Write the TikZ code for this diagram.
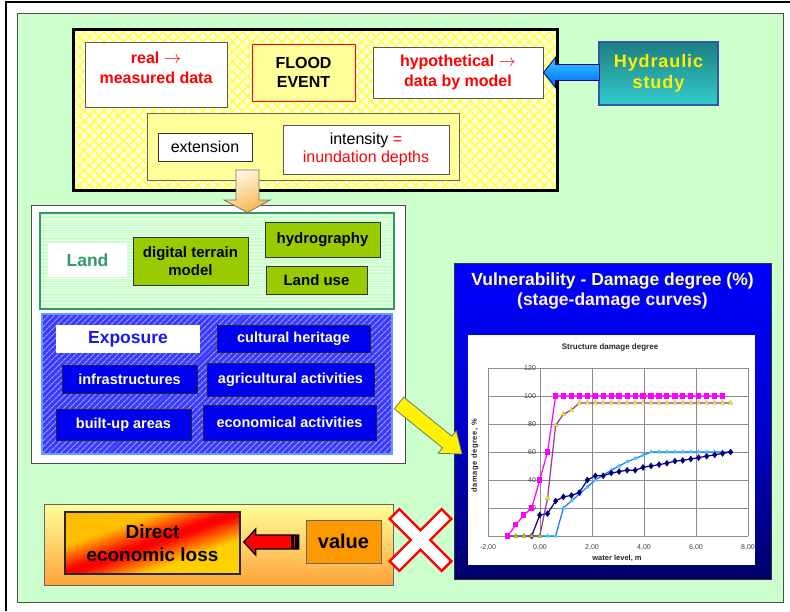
\documentclass[tikz,border=0pt]{standalone}
\usepackage{fontspec}
\setmainfont{Liberation Sans}
\newfontfamily\hydfont[LetterSpace=5]{Liberation Sans}
\newfontfamily\spcfont[LetterSpace=8]{Liberation Sans}
\usetikzlibrary{patterns.meta,calc,plotmarks}
\definecolor{cgreen}{HTML}{CCFFCC}
\definecolor{cpaleyel}{HTML}{FFFFE0}
\definecolor{chatch}{HTML}{FFFF5A}
\definecolor{cyel}{HTML}{FFFF99}
\definecolor{cteal1}{HTML}{1E7F80}
\definecolor{cteal2}{HTML}{33CCCC}
\definecolor{cnavyb}{HTML}{3355AA}
\definecolor{cblue1}{HTML}{33CCFF}
\definecolor{cblue2}{HTML}{0066FF}
\definecolor{cor1}{HTML}{FFF8E8}
\definecolor{cor2}{HTML}{F8B548}
\definecolor{cland}{HTML}{339966}
\definecolor{colive}{HTML}{99CC00}
\definecolor{cexpo}{HTML}{3B3BFF}
\definecolor{cexpol}{HTML}{A0A0FF}
\definecolor{clblue}{HTML}{6699FF}
\definecolor{cboxblue}{HTML}{0000F0}
\definecolor{cpaley}{HTML}{FFFFCC}
\definecolor{cexptext}{HTML}{1A1AE6}
\definecolor{cb1}{HTML}{0000FF}
\definecolor{cb2}{HTML}{0000D0}
\definecolor{cb3}{HTML}{00006A}
\definecolor{ctitlea}{HTML}{FFFF99}
\definecolor{ctitleb}{HTML}{FFF0E8}
\definecolor{cbya}{HTML}{FFFF99}
\definecolor{cbyb}{HTML}{FFA33A}
\definecolor{cgold}{HTML}{FFB800}
\definecolor{cgoldb}{HTML}{FFD400}
\definecolor{corange}{HTML}{FF9900}
\definecolor{cmag}{HTML}{FF00FF}
\definecolor{cpurp}{HTML}{993399}
\definecolor{cnavy}{HTML}{000080}
\definecolor{cbl}{HTML}{3366FF}
\definecolor{ccy}{HTML}{33CCFF}
\definecolor{cyg}{HTML}{A8D000}
\newcommand{\rarr}{\ensuremath{\rightarrow}}
\begin{document}
\begin{tikzpicture}[x=1pt,y=-1pt,
  bx/.style={rectangle, inner sep=0pt, align=center, line width=1pt},
  whitebox/.style={bx, draw=black!65, fill=white},
  redtxt/.style={align=center, text=red, font=\fontsize{16}{20}\selectfont\bfseries},
  olivebox/.style={bx, draw=black!80, fill=colive, font=\fontsize{15}{18}\selectfont\bfseries},
  bluebox/.style={bx, draw=black!85, fill=cboxblue, text=cpaley, font=\fontsize{14.5}{17}\selectfont\bfseries},
  gridln/.style={draw=black!45, line width=0.9pt},
  ticklab/.style={inner sep=0pt, text=black!75, font=\fontsize{7}{8}\selectfont},
  axtitle/.style={inner sep=0pt, text=black!85, font=\fontsize{7.5}{9}\selectfont\bfseries},
  series/.style={line width=1.2pt}
]
\useasboundingbox (0,0) rectangle (790,611);
\fill[white] (0,0) rectangle (790,611);
\draw[line width=2.4] (5,2.2) -- (790,2.2);
\draw[line width=1.8] (5.8,1) -- (5.8,611);

% background
\node[bx, draw=black!70, line width=0.8, fill=cgreen, minimum width=766, minimum height=589] (bg) at (400,307.5) {};

% flood event block
\node[bx, draw=black, line width=3, preaction={fill=cpaleyel}, pattern={Hatch[angle=45,distance=7pt,line width=1.8pt]}, pattern color=chatch, minimum width=484, minimum height=161] (floodp) at (315,109.5) {};
\node[whitebox, minimum width=142, minimum height=65] (real) at (156,74.5) {};
\node[redtxt] (realtxt) at (156,68) {real \rarr\\measured data};
\node[bx, draw=red, fill=cyel, minimum width=103, minimum height=57, font=\fontsize{16}{19}\selectfont\bfseries] (event) at (303.5,72.5) {FLOOD\\EVENT};
\node[whitebox, minimum width=170, minimum height=51, text=red, font=\fontsize{16}{20}\selectfont\bfseries] (hypo) at (458,72.5) {hypothetical \rarr\\data by model};
\node[bx, draw=black!60, fill=cyel, minimum width=312, minimum height=67] (effects) at (303,146.5) {};
\node[bx, draw=black!80, fill=white, minimum width=94, minimum height=28, font=\fontsize{16}{18}\selectfont] (ext) at (205,147) {extension};
\node[whitebox, minimum width=166, minimum height=49, font=\fontsize{16}{18}\selectfont] (inten) at (366,149.5) {intensity \textcolor{red}{=}\\\textcolor{red}{inundation depths}};

% hydraulic study
\node[bx, draw=cnavyb, line width=1.5, top color=cteal1, bottom color=cteal2, minimum width=119, minimum height=63, text=yellow, font=\hydfont\fontsize{18}{21}\selectfont\bfseries] (hyd) at (658.5,73.5) {Hydraulic\\study};
\draw[draw=cnavy, line width=0.9, top color=cblue1, bottom color=cblue2] (hypo.east) -- ++(12,-15) -- ++(0,7) -- ++(44,0) -- ++(0,16) -- ++(-44,0) -- ++(0,7) -- cycle;

% white panel
\node[bx, draw=black!70, fill=white, minimum width=374, minimum height=258] (panel) at (218,334) {};

% land
\node[bx, draw=cland, line width=1.5, preaction={fill=cgreen}, pattern={Lines[angle=0,distance=3.5pt,line width=0.9pt]}, pattern color=white!65!cgreen, minimum width=354, minimum height=96] (landp) at (217,261) {};
\node[bx, fill=white, minimum width=79, minimum height=34, text=cland, font=\fontsize{17.5}{20}\selectfont\bfseries] (land) at (87.5,260) {Land};
\node[olivebox, minimum width=115, minimum height=48] (dtm) at (190.5,261) {digital terrain\\model};
\node[olivebox, minimum width=115, minimum height=35] (hydro) at (322.5,239.5) {hydrography};
\node[olivebox, minimum width=101, minimum height=28] (landuse) at (316.5,280) {Land use};

% down arrow
\coordinate (dtail) at (247.5,170);
\draw[draw=black!55, line width=0.8, top color=cor1, bottom color=cor2, shading angle=25] ($(dtail)+(-11.5,0)$) -- ++(23,0) -- ++(0,30) -- ++(11,0) -- (dtail |- landp.north) -- ($(dtail)+(-23.5,30)$) -- ++(12,0) -- cycle;

% exposure
\node[bx, draw=clblue, line width=1.5, preaction={fill=cexpo}, pattern={Lines[angle=45,distance=4pt,line width=1.2pt]}, pattern color=cexpol, minimum width=350, minimum height=140] (expp) at (217,384) {};
\node[bx, fill=white, minimum width=144, minimum height=28, text=cexptext, font=\fontsize{17.5}{20}\selectfont\bfseries] (expo) at (128,339) {Exposure};
\node[bluebox, minimum width=153, minimum height=27] (cult) at (293.5,338.5) {cultural heritage};
\node[bluebox, minimum width=135, minimum height=28] (infra) at (129.5,379) {infrastructures};
\node[bluebox, minimum width=167, minimum height=33] (agri) at (290.5,379.5) {agricultural activities};
\node[bluebox, minimum width=135, minimum height=31] (built) at (123.5,424.5) {built-up areas};
\node[bluebox, minimum width=173, minimum height=35] (econ) at (289.5,422.5) {economical activities};

% vulnerability panel
\node[bx, draw=black!80, top color=cb1, bottom color=cb3, middle color=cb2, minimum width=317, minimum height=316] (vul) at (612.5,421) {};
\node[inner sep=0pt, text=ctitlea, font=\fontsize{17.5}{20}\selectfont\bfseries] (vt1) at (612.5,281) {Vulnerability - Damage degree (\%)};
\node[inner sep=0pt, text=ctitleb, font=\fontsize{17.5}{20}\selectfont\bfseries] (vt2) at (612.5,301) {(stage-damage curves)};
\node[bx, fill=white, minimum width=287, minimum height=230] (chart) at (611.5,450) {};
\node[axtitle, font=\fontsize{8}{9}\selectfont\bfseries] (ctitle) at (610,347) {Structure damage degree};
\node[axtitle] (xtitle) at (617,558) {water level, m};
\node[axtitle, rotate=90, font=\spcfont\fontsize{7.5}{9}\selectfont\bfseries] (ytitle) at (475,456) {damage degree, \%};

\begin{scope}[shift={(540,536)}, x=26pt, y=1.4pt]
  \foreach \v in {20,40,60,80,100,120} \draw[gridln] (-2,\v) -- (8,\v);
  \foreach \u in {-2,0,2,4,6,8} \draw[gridln] (\u,0) -- (\u,120);
  \draw[gridln] (-2,0) -- (8,0);
  \foreach \v in {20,40,60,80,100,120} \node[ticklab, anchor=east] at (-0.15,\v) {\v};
  \foreach \u/\t in {-2/{-2,00},0/{0,00},2/{2,00},4/{4,00},6/{6,00},8/{8,00}} \node[ticklab] at (\u,-8) {\t};
  % blue series
  \draw[series, draw=cbl, mark=triangle*, mark size=2.3pt, mark options={fill=ccy, draw=ccy, line width=0.3pt}] plot coordinates {(-1.24,0)(-0.93,0)(-0.62,0)(-0.32,0)(-0.01,0)(0.29,0)(0.60,0)(0.90,20)(1.21,25)(1.51,30)(1.82,35)(2.13,40)(2.43,43.5)(2.74,47)(3.04,50)(3.35,53)(3.66,55.3)(3.96,57.7)(4.27,60)(4.58,60)(4.88,60)(5.19,60)(5.49,60)(5.80,60)(6.10,60)(6.41,60)(6.72,60)(7.02,60)(7.33,60)};
  % navy series
  \draw[series, draw=cnavy, mark=diamond*, mark size=2.4pt, mark options={fill=cnavy, draw=cnavy}] plot coordinates {(-0.32,0)(-0.01,15)(0.29,16)(0.60,25)(0.90,28)(1.21,29)(1.51,31)(1.82,40)(2.13,43)(2.43,43)(2.74,45)(3.04,46)(3.35,47)(3.66,47)(3.96,49)(4.27,50)(4.58,51)(4.88,52)(5.19,53.5)(5.49,54)(5.80,55)(6.10,56)(6.41,57)(6.72,58)(7.02,59)(7.33,60)};
  % purple series
  \draw[series, draw=cpurp] plot coordinates {(-1.24,0)(-0.93,0)(-0.62,0)(-0.32,0)(-0.01,0)(0.29,27)(0.60,79)(0.90,87)(1.21,90)(1.51,95)(7.33,95)};
  \draw[draw=none] plot[mark=triangle*, mark size=2.6pt, mark options={fill=cyg, draw=cyg!70!black, line width=0.3pt}] coordinates {(-1.24,0)(-0.93,0)(-0.62,0)(-0.32,0)(-0.01,0)};
  \draw[draw=none] plot[mark=triangle*, mark size=2.6pt, mark options={fill=yellow, draw=yellow!60!black, line width=0.3pt}] coordinates {(0.29,27)(0.60,79)(0.90,87)(1.21,90)(1.51,95)(1.82,95)(2.13,95)(2.43,95)(2.74,95)(3.04,95)(3.35,95)(3.66,95)(3.96,95)(4.27,95)(4.58,95)(4.88,95)(5.19,95)(5.49,95)(5.80,95)(6.10,95)(6.41,95)(6.72,95)(7.02,95)(7.33,95)};
  % magenta series
  \draw[series, draw=cmag, mark=square*, mark size=2pt, mark options={fill=cmag, draw=cmag}] plot coordinates {(-1.24,0)(-0.93,8)(-0.62,15)(-0.32,20)(-0.01,40)(0.29,60)(0.60,100)(0.90,100)(1.21,100)(1.51,100)(1.82,100)(2.13,100)(2.43,100)(2.74,100)(3.04,100)(3.35,100)(3.66,100)(3.96,100)(4.27,100)(4.58,100)(4.88,100)(5.19,100)(5.49,100)(5.80,100)(6.10,100)(6.41,100)(6.72,100)(7.02,100)};
\end{scope}

% yellow arrow
\coordinate (ystart) at (399,403);
\begin{scope}[shift={(ystart)}, rotate=-39]
  \draw[draw=black!55, fill=yellow, line width=0.8] (0,-7.5) -- (62,-7.5) -- (62,-14.5) -- (81,0) -- (62,14.5) -- (62,7.5) -- (0,7.5) -- cycle;
\end{scope}

% bottom block
\node[bx, draw=black!60, top color=cbya, bottom color=cbyb, minimum width=349, minimum height=81] (lossp) at (218.5,544.5) {};
% diagonal gradient of the loss box (gold - red - gold along the anti-diagonal)
\begin{scope}
  \clip (65,512) rectangle (240,574);
  \foreach \k in {0,...,39} {
    \pgfmathsetmacro{\sa}{\k/20}
    \pgfmathsetmacro{\sb}{(\k+1)/20+0.012}
    \pgfmathsetmacro{\xa}{65+175*(\sa+1)}
    \pgfmathsetmacro{\xb}{65+175*(\sb+1)}
    \pgfmathsetmacro{\xc}{65+175*(\sb-2)}
    \pgfmathsetmacro{\xd}{65+175*(\sa-2)}
    \pgfmathsetmacro{\pc}{100*max(0,1-max(0,abs(\k/20+0.025-1)-0.05)/0.4)}
    \pgfmathsetmacro{\pg}{100*(\k/39)}
    \colorlet{cstrip}{cgoldb!\pg!cgold}
    \fill[red!\pc!cstrip] (\xa,450) -- (\xb,450) -- (\xc,636) -- (\xd,636) -- cycle;
  }
\end{scope}
\node[bx, draw=black!85, line width=1.5, minimum width=175, minimum height=62, font=\fontsize{19}{23}\selectfont\bfseries] (direct) at (152.5,543) {Direct\\economic loss};
\node[bx, draw=black!60, fill=corange, minimum width=75, minimum height=43, font=\fontsize{20}{22}\selectfont\bfseries] (value) at (343.5,541.5) {value};
\coordinate (rtip) at ($(direct.east)+(3,-1)$);
\draw[draw=black, line width=1.3, fill=red] (rtip) -- ++(12,-13) -- ++(0,6) -- ++(43,0) -- ++(0,14) -- ++(-43,0) -- ++(0,6) -- cycle;
\fill[black] ($(rtip)+(47,-7)$) rectangle ($(rtip)+(55,7)$);
\draw[red, line width=0.9] ($(rtip)+(50.3,-6)$) -- ($(rtip)+(50.3,6)$);

% red cross
\begin{scope}[shift={(420.5,540)}]
  \foreach \a in {45,-45} \draw[red, line width=5, rotate=\a] (-35.5,-5.5) rectangle (35.5,5.5);
  \foreach \a in {45,-45} \fill[white, rotate=\a] (-35.5,-5.5) rectangle (35.5,5.5);
\end{scope}
\end{tikzpicture}
\end{document}
